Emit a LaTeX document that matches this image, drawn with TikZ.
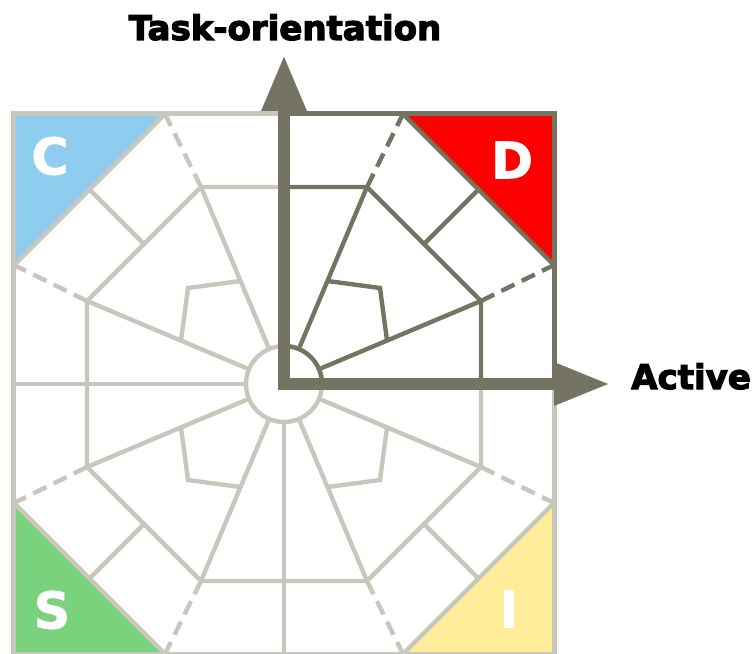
\documentclass[tikz,border=0pt]{standalone}
\usepackage{fontspec}
\setmainfont{DejaVu Sans}
\newfontfamily\heavyfont{DejaVu Sans Bold}[FakeBold=3.5]
\newfontfamily\letterfont{DejaVu Sans Bold}[FakeBold=1.5]
\usetikzlibrary{arrows.meta,calc}

\definecolor{lineGray}{RGB}{200,199,190}
\definecolor{axisOlive}{RGB}{117,116,98}
\definecolor{cBlue}{RGB}{142,204,240}
\definecolor{dRed}{RGB}{255,0,0}
\definecolor{sGreen}{RGB}{122,210,125}
\definecolor{iYellow}{RGB}{255,236,153}

\begin{document}
\begin{tikzpicture}[x=0.75pt,y=0.75pt,
    grid/.style={line width=3.3pt},
    border/.style={line width=3.75pt,line join=miter,line cap=rect},
    dashline/.style={line width=3.3pt,dash pattern=on 11pt off 6pt},
    axis/.style={axisOlive,line width=9pt,line join=miter},
    letter/.style={text=white,font=\letterfont\fontsize{38}{38}\selectfont,inner sep=0pt},
    title/.style={font=\heavyfont\fontsize{25.5}{26}\selectfont,inner sep=0pt}]
    \useasboundingbox (-284,-269) rectangle (468,384);

    % one quadrant per style: corner triangle, octagon, spokes, inner shape
    \foreach \sx/\sy/\fillcol/\linecol in
        {-1/1/cBlue/lineGray, -1/-1/sGreen/lineGray, 1/-1/iYellow/lineGray, 1/1/dRed/axisOlive}{
    \begin{scope}[xscale=\sx,yscale=\sy,\linecol]
        % coloured corner
        \fill[\fillcol] (270,270) -- (119,270) -- (270,119) -- cycle;
        % outer square and octagon edge
        \draw[border] (0,270) -- (270,270) -- (270,0);
        \draw[grid] (119,270) -- (270,119);
        % dashed spoke ends
        \draw[dashline] (83,197) -- (119,270);
        \draw[dashline] (197,83) -- (270,119);
        % inner octagon
        \draw[grid,line join=miter] (0,197) -- (83,197) -- (197,83) -- (197,0);
        % spokes from the hub
        \draw[grid] (14.8,35) -- (83,197);
        \draw[grid] (35,14.8) -- (197,83);
        % short link to the octagon edge
        \draw[grid] (140,140) -- (194.5,194.5);
        % small corner shape
        \draw[grid] (43.5,103) -- (96,96) -- (103,43.5);
    \end{scope}
    }

    % hub and the grey half axes
    \draw[grid,lineGray] (0,0) circle (38);
    \draw[grid,axisOlive] (38,0) arc[start angle=0,end angle=90,radius=38];
    \draw[grid,lineGray] (-270,0) -- (-38,0);
    \draw[grid,lineGray] (0,-38) -- (0,-270);

    % thick axes with arrow heads
    \draw[axis,{Triangle[length=42pt,width=31.5pt]}-{Triangle[length=42pt,width=30pt]}]
        (0,329) -- (0,0) -- (326,0);

    % style letters
    \node[letter] (cLabel) at (-234,228) {C};
    \node[letter] (dLabel) at (228,224) {D};
    \node[letter] (sLabel) at (-232,-226) {S};
    \node[letter] (iLabel) at (225,-225) {I};

    % axis names
    \node[title,anchor=base] (taskAxis) at (1,344) {Task-orientation};
    \node[title,anchor=base west] (activeAxis) at (347,-5) {Active};
\end{tikzpicture}
\end{document}
